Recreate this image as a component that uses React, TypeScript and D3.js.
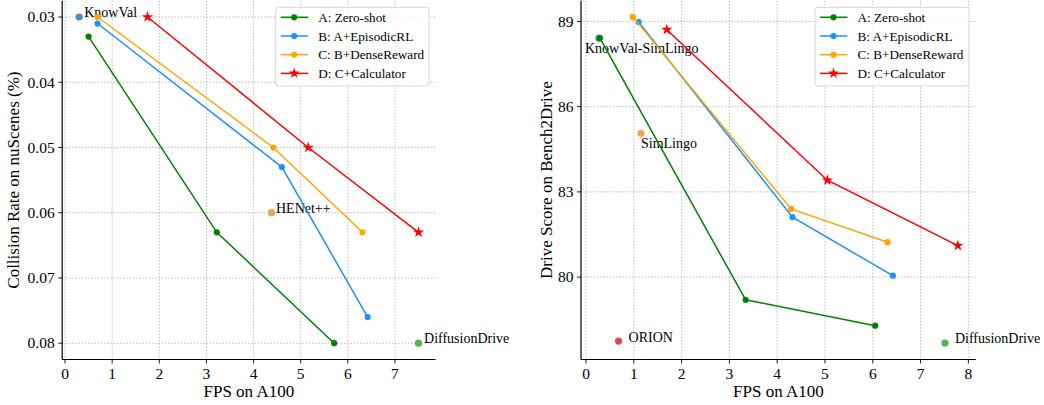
import * as d3 from "d3";

const FONT = "'Liberation Serif', 'Times New Roman', serif";

type Pt = [number, number];

// series metadata (shared by both panels)
const SERIES_NAMES = ["A: Zero-shot", "B: A+EpisodicRL", "C: B+DenseReward", "D: C+Calculator"];
const SERIES_COLORS = ["#008000", "#1e90ff", "#ffa500", "#ff0000"];
const SERIES_MARKERS = ["circle", "circle", "circle", "star"];

// left panel: FPS vs collision rate
const COLL_A: Pt[] = [[0.5, 0.033], [3.22, 0.063], [5.71, 0.08]];
const COLL_B: Pt[] = [[0.69, 0.031], [4.6, 0.053], [6.42, 0.076]];
const COLL_C: Pt[] = [[0.69, 0.03], [4.42, 0.05], [6.31, 0.063]];
const COLL_D: Pt[] = [[1.75, 0.03], [5.16, 0.05], [7.5, 0.063]];
const COLL_OTHERS = [
  { name: "KnowVal", x: 0.3, y: 0.03, color: "#4a8ec6" },
  { name: "HENet++", x: 4.38, y: 0.06, color: "#f5a04a" },
  { name: "DiffusionDrive", x: 7.5, y: 0.08, color: "#52b352" },
];
const COLL_XTICKS = [0, 1, 2, 3, 4, 5, 6, 7];
const COLL_YTICKS = [0.03, 0.04, 0.05, 0.06, 0.07, 0.08];

// right panel: FPS vs drive score
const DS_A: Pt[] = [[0.29, 88.41], [3.34, 79.2], [6.05, 78.29]];
const DS_B: Pt[] = [[1.1, 88.98], [4.32, 82.11], [6.42, 80.05]];
const DS_C: Pt[] = [[0.98, 89.16], [4.29, 82.4], [6.31, 81.23]];
const DS_D: Pt[] = [[1.69, 88.71], [5.05, 83.41], [7.78, 81.11]];
const DS_OTHERS = [
  { name: "KnowVal-SimLingo", x: 0.27, y: 88.41, color: "#3f8fd8" },
  { name: "SimLingo", x: 1.15, y: 85.06, color: "#f9a04a" },
  { name: "ORION", x: 0.68, y: 77.75, color: "#e0474c" },
  { name: "DiffusionDrive", x: 7.51, y: 77.68, color: "#52b352" },
];
const DS_XTICKS = [0, 1, 2, 3, 4, 5, 6, 7, 8];
const DS_YTICKS = [80, 83, 86, 89];

// label offsets (px) from each annotated point
const LABEL_OFFSETS: Record<string, [number, number]> = {
  KnowVal: [5, -0.5],
  "HENet++": [4.5, 0],
  DiffusionDrive: [5.5, 0],
  "KnowVal-SimLingo": [-14, 14.5],
  SimLingo: [0, 14.5],
  ORION: [10, 0.5],
};
const LABEL_OFFSETS_RIGHT: Record<string, [number, number]> = {
  DiffusionDrive: [10, 0],
};

type PanelProps = {
  series: Pt[][];
  others: { name: string; x: number; y: number; color: string }[];
  xDomain: [number, number];
  yDomain: [number, number];
  left: number;
  right: number;
  xTicks: number[];
  yTicks: number[];
  yFmt: (v: number) => string;
  yLabel: string;
  yLabelX: number;
  legendX: number;
  legendW: number;
  offsets: Record<string, [number, number]>;
};

const TOP = 0.7;
const BOTTOM = 359.5;

function Panel(p: PanelProps) {
  const x = d3.scaleLinear().domain(p.xDomain).range([p.left, p.right]);
  const y = d3.scaleLinear().domain(p.yDomain).range([TOP, BOTTOM]);
  const line = d3
    .line<Pt>()
    .x((d) => x(d[0]))
    .y((d) => y(d[1]));
  const star = d3.symbol().type(d3.symbolStar).size(40)()!;
  const starSmall = d3.symbol().type(d3.symbolStar).size(38)()!;

  return (
    <g>
      {/* grid */}
      {p.xTicks.map((t) => (
        <line key={`gx${t}`} x1={x(t)} x2={x(t)} y1={TOP} y2={BOTTOM}
          stroke="#b0b0b0" strokeWidth={0.8} strokeDasharray="1.6,1.6" />
      ))}
      {p.yTicks.map((t) => (
        <line key={`gy${t}`} x1={p.left} x2={p.right} y1={y(t)} y2={y(t)}
          stroke="#b0b0b0" strokeWidth={0.8} strokeDasharray="1.6,1.6" />
      ))}

      {/* other methods */}
      {p.others.map((o) => {
        const off = p.offsets[o.name] ?? [5, 0];
        return (
          <g key={o.name}>
            <circle cx={x(o.x)} cy={y(o.y)} r={3.6} fill={o.color} />
            <text x={x(o.x) + off[0]} y={y(o.y) + off[1]} fontSize={14}
              fontFamily={FONT} fill="#000">{o.name}</text>
          </g>
        );
      })}

      {/* series */}
      {p.series.map((s, i) => (
        <g key={i}>
          <path d={line(s)!} fill="none" stroke={SERIES_COLORS[i]} strokeWidth={1.5} />
          {s.map((d, j) =>
            SERIES_MARKERS[i] === "star" ? (
              <path key={j} d={star} transform={`translate(${x(d[0])},${y(d[1])})`}
                fill={SERIES_COLORS[i]} />
            ) : (
              <circle key={j} cx={x(d[0])} cy={y(d[1])} r={3.1} fill={SERIES_COLORS[i]} />
            )
          )}
        </g>
      ))}

      {/* spines */}
      <line x1={p.left} x2={p.left} y1={TOP} y2={BOTTOM} stroke="#000" strokeWidth={1.2} />
      <line x1={p.left} x2={p.right} y1={BOTTOM} y2={BOTTOM} stroke="#000" strokeWidth={1.2} />

      {/* x ticks */}
      {p.xTicks.map((t) => (
        <g key={`xt${t}`}>
          <line x1={x(t)} x2={x(t)} y1={BOTTOM} y2={BOTTOM + 4} stroke="#000" strokeWidth={0.9} />
          <text x={x(t)} y={378.5} textAnchor="middle" fontSize={15.5} fontFamily={FONT}>
            {t}
          </text>
        </g>
      ))}
      {/* y ticks */}
      {p.yTicks.map((t) => (
        <g key={`yt${t}`}>
          <line x1={p.left - 4} x2={p.left} y1={y(t)} y2={y(t)} stroke="#000" strokeWidth={0.9} />
          <text x={p.left - 7.5} y={y(t)} dy="0.34em" textAnchor="end" fontSize={15.5}
            fontFamily={FONT}>
            {p.yFmt(t)}
          </text>
        </g>
      ))}

      {/* axis labels */}
      <text x={(p.left + p.right) / 2} y={397} textAnchor="middle" fontSize={17} fontFamily={FONT}>
        FPS on A100
      </text>
      <text transform={`translate(${p.yLabelX},${(TOP + BOTTOM) / 2}) rotate(-90)`}
        textAnchor="middle" fontSize={17} fontFamily={FONT}>
        {p.yLabel}
      </text>

      {/* legend */}
      <g transform={`translate(${p.legendX},7.3)`}>
        <rect x={0} y={0} width={p.legendW} height={78.7} rx={3} fill="#fff" fillOpacity={0.8}
          stroke="#d6d6d6" strokeWidth={1} />
        {SERIES_NAMES.map((n, i) => {
          const cy = 10 + i * 18.7;
          return (
            <g key={n}>
              <line x1={5} x2={32.5} y1={cy} y2={cy} stroke={SERIES_COLORS[i]} strokeWidth={1.5} />
              {SERIES_MARKERS[i] === "star" ? (
                <path d={starSmall} transform={`translate(18.5,${cy})`} fill={SERIES_COLORS[i]} />
              ) : (
                <circle cx={18.5} cy={cy} r={3.1} fill={SERIES_COLORS[i]} />
              )}
              <text x={42.5} y={cy} dy="0.35em" fontSize={13.2} fontFamily={FONT}>
                {n}
              </text>
            </g>
          );
        })}
      </g>
    </g>
  );
}

export default function App() {
  return (
    <div style={{ position: "fixed", left: 0, top: 0 }}>
      <svg width={1044} height={405} style={{ display: "block", background: "#fff" }}>
        <Panel
          series={[COLL_A, COLL_B, COLL_C, COLL_D]}
          others={COLL_OTHERS}
          xDomain={[-0.06, 7.86]}
          yDomain={[0.0275, 0.0825]}
          left={62.2}
          right={435.5}
          xTicks={COLL_XTICKS}
          yTicks={COLL_YTICKS}
          yFmt={d3.format(".2f")}
          yLabel="Collision Rate on nuScenes (%)"
          yLabelX={18.5}
          legendX={275.7}
          legendW={153.3}
          offsets={LABEL_OFFSETS}
        />
        <Panel
          series={[DS_A, DS_B, DS_C, DS_D]}
          others={DS_OTHERS}
          xDomain={[-0.1055, 8.1555]}
          yDomain={[89.73, 77.1]}
          left={581}
          right={975.8}
          xTicks={DS_XTICKS}
          yTicks={DS_YTICKS}
          yFmt={d3.format("d")}
          yLabel="Drive Score on Bench2Drive"
          yLabelX={551.5}
          legendX={815}
          legendW={154}
          offsets={{ ...LABEL_OFFSETS, ...LABEL_OFFSETS_RIGHT }}
        />
      </svg>
    </div>
  );
}
